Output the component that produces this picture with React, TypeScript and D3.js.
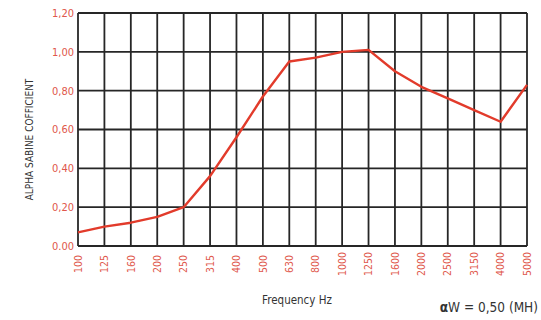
import { useEffect, useRef } from 'react';
import * as d3 from 'd3';

const frequencies = ['100', '125', '160', '200', '250', '315', '400', '500', '630', '800', '1000', '1250', '1600', '2000', '2500', '3150', '4000', '5000'];
const alphaValues = [0.07, 0.10, 0.12, 0.15, 0.20, 0.36, 0.56, 0.77, 0.95, 0.97, 1.00, 1.01, 0.90, 0.82, 0.76, 0.70, 0.64, 0.83];
const yTicks = [0, 0.2, 0.4, 0.6, 0.8, 1.0, 1.2];
const yTickLabels = ['0.00', '0,20', '0,40', '0,60', '0,80', '1,00', '1,20'];

export default function App() {
  const svgRef = useRef<SVGSVGElement>(null);

  useEffect(() => {
    const svg = d3.select(svgRef.current);
    svg.selectAll('*').remove();

    const width = 541;
    const height = 320;
    const left = 78, right = 527, top = 13, bottom = 246;
    const narrow = '"Liberation Sans Narrow", "DejaVu Sans Condensed", Arial, sans-serif';

    svg.attr('width', width).attr('height', height);

    svg.append('rect').attr('width', width).attr('height', height).attr('fill', '#fff');

    const x = d3.scalePoint<string>().domain(frequencies).range([left, right]);
    const y = d3.scaleLinear().domain([0, 1.2]).range([bottom, top]);

    const grid = svg.append('g').attr('stroke', '#262626').attr('stroke-width', 1.8);

    // vertical grid lines
    grid.selectAll('line.v')
      .data(frequencies)
      .enter()
      .append('line')
      .attr('class', 'v')
      .attr('x1', d => x(d)!)
      .attr('x2', d => x(d)!)
      .attr('y1', y(1.2))
      .attr('y2', y(0));

    // horizontal grid lines
    grid.selectAll('line.h')
      .data(yTicks)
      .enter()
      .append('line')
      .attr('class', 'h')
      .attr('x1', left)
      .attr('x2', right)
      .attr('y1', d => y(d))
      .attr('y2', d => y(d));

    // y tick labels
    svg.append('g')
      .selectAll('text')
      .data(yTicks)
      .enter()
      .append('text')
      .attr('x', left - 4)
      .attr('y', d => y(d))
      .attr('dy', '0.35em')
      .attr('text-anchor', 'end')
      .attr('font-family', narrow)
      .attr('font-size', 11)
      .attr('fill', '#e0574c')
      .text((d, i) => yTickLabels[i]);

    // x tick labels (rotated)
    svg.append('g')
      .selectAll('text')
      .data(frequencies)
      .enter()
      .append('text')
      .attr('transform', d => `translate(${x(d)},264) rotate(-90)`)
      .attr('dy', '0.35em')
      .attr('text-anchor', 'middle')
      .attr('font-family', narrow)
      .attr('font-size', 10.5)
      .attr('fill', '#e0574c')
      .text(d => d);

    // data line
    const line = d3.line<number>()
      .x((d, i) => x(frequencies[i])!)
      .y(d => y(d));

    svg.append('path')
      .datum(alphaValues)
      .attr('fill', 'none')
      .attr('stroke', '#e23b2b')
      .attr('stroke-width', 2.4)
      .attr('stroke-linejoin', 'round')
      .attr('d', line);

    // axis titles
    svg.append('text')
      .attr('transform', `translate(33,${(top + bottom) / 2 + 10}) rotate(-90)`)
      .attr('text-anchor', 'middle')
      .attr('font-family', narrow)
      .attr('font-size', 10)
      .attr('fill', '#333')
      .text('ALPHA SABINE COFFICIENT');

    svg.append('text')
      .attr('x', 297)
      .attr('y', 304)
      .attr('text-anchor', 'middle')
      .attr('font-family', narrow)
      .attr('font-size', 11.5)
      .attr('fill', '#333')
      .text('Frequency Hz');

    const note = svg.append('text')
      .attr('x', 538)
      .attr('y', 312)
      .attr('text-anchor', 'end')
      .attr('font-family', narrow)
      .attr('font-size', 13.5)
      .attr('fill', '#333');
    note.append('tspan').attr('font-weight', 'bold').text('α');
    note.append('tspan').text('W = 0,50 (MH)');
  }, []);

  return (
    <div style={{ position: 'fixed', left: 0, top: 0 }}>
      <svg ref={svgRef} style={{ display: 'block' }}></svg>
    </div>
  );
}
